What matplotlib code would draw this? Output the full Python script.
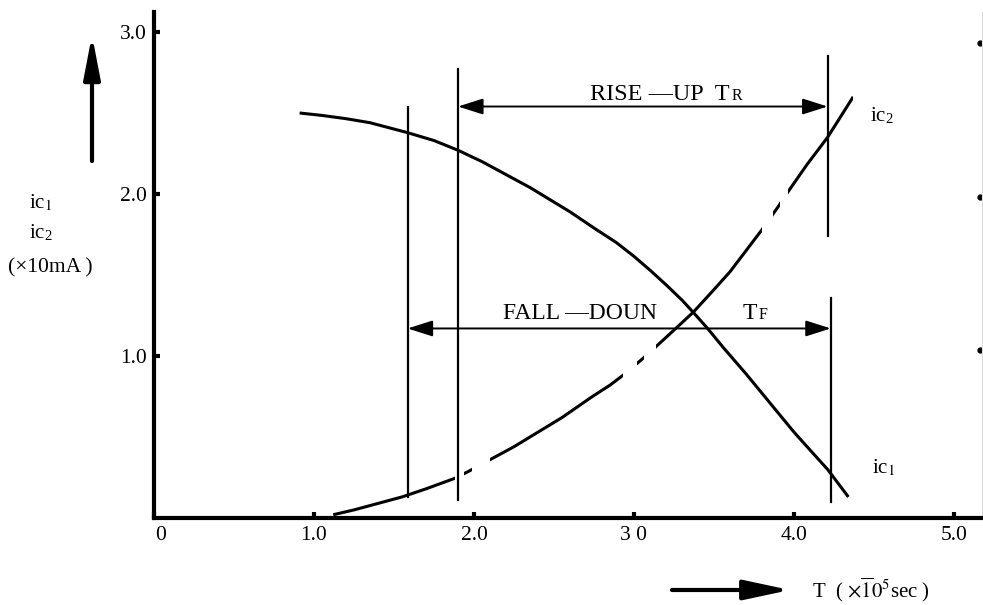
import matplotlib
matplotlib.use("Agg")
import matplotlib.pyplot as plt
import matplotlib.transforms as mtransforms
from matplotlib.patches import Rectangle

plt.rcParams.update({
    "font.family": "Liberation Serif",
    "mathtext.fontset": "stix",
    "font.size": 15,
})

# collector currents (x 10 mA) against time (x 1e-5 sec)
ic1_t = [0.91, 1.05, 1.20, 1.35, 1.58, 1.75, 1.90, 2.05, 2.20, 2.35, 2.45, 2.60, 2.75,
         2.89, 3.00, 3.10, 3.20, 3.30, 3.37, 3.46, 3.56, 3.70, 3.80, 3.90, 4.00, 4.10,
         4.21, 4.34]
ic1_i = [2.50, 2.485, 2.465, 2.44, 2.38, 2.33, 2.27, 2.20, 2.12, 2.04, 1.98, 1.89, 1.79,
         1.70, 1.615, 1.53, 1.44, 1.345, 1.27, 1.17, 1.05, 0.89, 0.77, 0.65, 0.53, 0.42,
         0.30, 0.13]

ic2_t = [1.12, 1.25, 1.40, 1.55, 1.70, 1.88, 1.97, 2.10, 2.25, 2.40, 2.55, 2.74, 2.85,
         2.93, 3.05, 3.14, 3.25, 3.37, 3.50, 3.60, 3.70, 3.80, 3.90, 3.96, 4.08, 4.21,
         4.37]
ic2_i = [0.02, 0.05, 0.09, 0.13, 0.18, 0.245, 0.29, 0.36, 0.44, 0.53, 0.62, 0.75, 0.82,
         0.88, 0.98, 1.06, 1.16, 1.27, 1.41, 1.52, 1.65, 1.78, 1.92, 2.01, 2.18, 2.35,
         2.60]

# ic2 is drawn broken: only these time spans are inked
ic2_visible = [(1.12, 1.88), (1.94, 1.99), (2.10, 2.93), (3.02, 3.06),
               (3.14, 3.80), (3.87, 3.91), (3.96, 4.37)]

# marker lines: (t, i_bottom, i_top)
markers = [(1.585, 0.13, 2.54), (1.90, 0.11, 2.77), (4.21, 1.74, 2.85), (4.23, 0.10, 1.36)]

rise_span = (1.90, 4.21, 2.54)
fall_span = (1.585, 4.23, 1.17)

xticks = [0, 1, 2, 3, 4, 5]
xtick_labels = ["0", "1.0", "2.0", "3 0", "4.0", "5.0"]
yticks = [1, 2, 3]
ytick_labels = ["1.0", "2.0", "3.0"]

edge_dots_t = [5.16, 5.16, 5.16]
edge_dots_i = [2.93, 1.98, 1.04]

W, H = 983, 605
fig = plt.figure(figsize=(W / 100, H / 100), dpi=100)
ax = fig.add_axes([154 / W, (H - 518) / H, (W - 154) / W, (518 - 12) / H])
ax.set_xlim(0, (W - 154) / 160)
ax.set_ylim(0, (518 - 12) / 162)

for s in ["top", "right"]:
    ax.spines[s].set_visible(False)
for s in ["left", "bottom"]:
    ax.spines[s].set_linewidth(3)
ax.set_xticks(xticks)
ax.set_xticklabels(xtick_labels)
ax.set_yticks(yticks)
ax.set_yticklabels(ytick_labels)
ax.tick_params(direction="in", length=4, width=3, labelsize=15.5)
ax.tick_params(axis="x", pad=6)
ax.tick_params(axis="y", pad=5)
# the "0" sits a little right of the origin
lbl0 = ax.get_xticklabels()[0]
lbl0.set_transform(lbl0.get_transform()
                   + mtransforms.ScaledTranslation(7 / 100, 0, fig.dpi_scale_trans))

ax.plot(ic1_t, ic1_i, color="black", lw=2.2, solid_capstyle="butt")
for t0, t1 in ic2_visible:
    ln, = ax.plot(ic2_t, ic2_i, color="black", lw=2.2, solid_capstyle="butt")
    ln.set_clip_path(Rectangle((t0, -1), t1 - t0, 10, transform=ax.transData))

for t, b, top in markers:
    ax.plot([t, t], [b, top], color="black", lw=1.6)

for t0, t1, y in [rise_span, fall_span]:
    ax.annotate("", xy=(t1, y), xytext=(t0, y),
                arrowprops=dict(arrowstyle="<|-|>,head_length=1.1,head_width=0.35",
                                mutation_scale=14, lw=1.4, color="black",
                                shrinkA=0, shrinkB=0))

ax.text(3.60, 2.58, "RISE —UP  T", ha="right", va="baseline", fontsize=17.5)
ax.text(3.61, 2.58, "R", ha="left", va="baseline", fontsize=11.5)
ax.text(2.66, 1.23, "FALL —DOUN", ha="center", va="baseline", fontsize=17)
ax.text(3.77, 1.23, "T", ha="right", va="baseline", fontsize=17)
ax.text(3.78, 1.23, "F", ha="left", va="baseline", fontsize=11.5)
ax.text(4.475, 2.48, r"ic$_{\mathregular{2}}$", ha="left", va="center", fontsize=15)
ax.text(4.49, 0.31, r"ic$_{\mathit{1}}$", ha="left", va="center", fontsize=15)

ax.plot(edge_dots_t, edge_dots_i, "o", color="black", ms=3.5, clip_on=False)
ax.axvline((W - 154) / 160 - 0.005, color="#dddddd", lw=0.8)


def px(x, y):
    return x / W, (H - y) / H


fig.text(*px(29, 203), r"ic$_{\mathit{1}}$", ha="left", va="center", fontsize=15)
fig.text(*px(29, 233), r"ic$_{\mathregular{2}}$", ha="left", va="center", fontsize=15)
fig.text(*px(8, 268), "(×10mA )", ha="left", va="center", fontsize=15.5)

# direction arrows for the axis titles
ax.annotate("", xy=(92, H - 35), xytext=(92, H - 161), xycoords="figure pixels",
            arrowprops=dict(arrowstyle="-|>,head_length=1.3,head_width=0.25",
                            mutation_scale=20, lw=3, color="black",
                            shrinkA=0, shrinkB=0))
ax.annotate("", xy=(790, H - 590), xytext=(672, H - 590), xycoords="figure pixels",
            arrowprops=dict(arrowstyle="-|>,head_length=1.4,head_width=0.3",
                            mutation_scale=20, lw=3, color="black",
                            shrinkA=0, shrinkB=0))
fig.text(*px(812, 597), r"T  ( $\times\overline{1}0^{5}$sec )", ha="left",
         va="baseline", fontsize=15)

fig.savefig("out.png", dpi=100, facecolor="white")
